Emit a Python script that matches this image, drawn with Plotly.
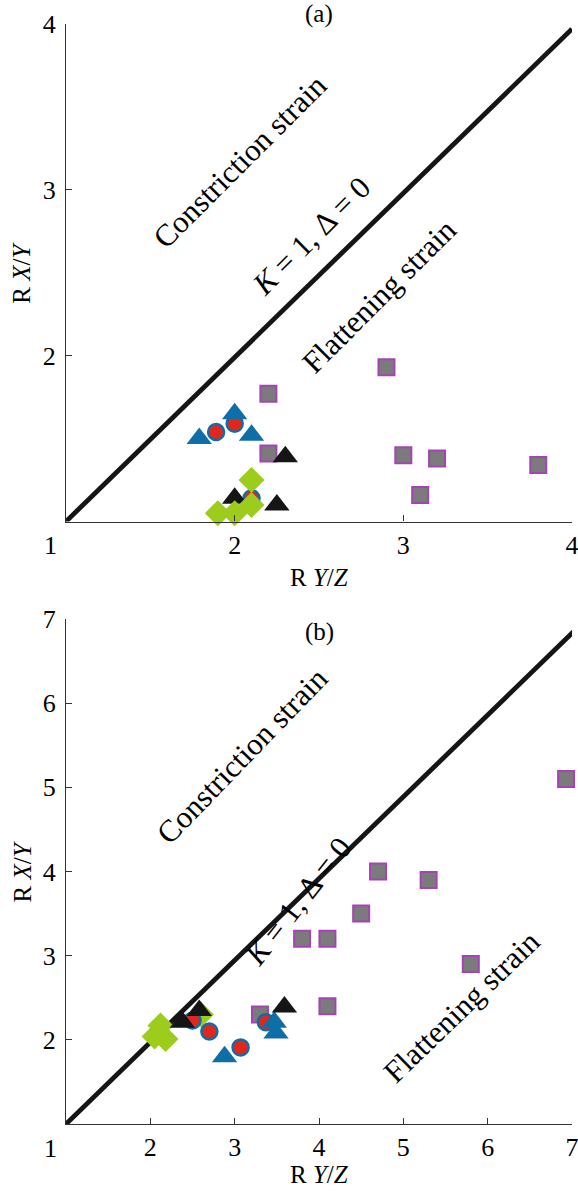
import plotly.graph_objects as go

# ---- Panel (a) data: R Y/Z (x) vs R X/Y (y) ----
a_sq_x = [2.2, 2.9, 2.2, 3.0, 3.2, 3.8, 3.1]
a_sq_y = [1.77, 1.93, 1.41, 1.40, 1.38, 1.34, 1.16]
a_circ_x = [1.89, 2.0, 2.1]
a_circ_y = [1.54, 1.59, 1.14]
a_btri_x = [1.79, 2.0, 2.1]
a_btri_y = [1.50, 1.65, 1.52]
a_ktri_x = [2.3, 2.0, 2.25]
a_ktri_y = [1.39, 1.14, 1.10]
a_dia_x = [1.9, 2.0, 2.1, 2.1]
a_dia_y = [1.05, 1.05, 1.25, 1.10]

# ---- Panel (b) data ----
b_sq_x = [6.93, 4.7, 5.3, 4.5, 3.8, 4.1, 5.8, 4.1, 3.3]
b_sq_y = [5.1, 4.0, 3.9, 3.5, 3.2, 3.2, 2.9, 2.4, 2.3]
b_circ_x = [2.5, 2.7, 3.07, 3.37]
b_circ_y = [2.23, 2.1, 1.91, 2.21]
b_btri_x = [2.88, 3.47, 3.49]
b_btri_y = [1.80, 2.21, 2.08]
b_ktri_x = [2.38, 2.58, 3.59]
b_ktri_y = [2.21, 2.35, 2.39]
b_dia_x = [2.05, 2.18, 2.12, 2.6]
b_dia_y = [2.04, 2.01, 2.17, 2.3]

# K = 1 reference lines
a_line_x = [1, 4]
a_line_y = [1, 3.97]
b_line_x = [1, 7.05]
b_line_y = [1, 6.88]

a_ticks = [2, 3, 4]
b_ticks = [2, 3, 4, 5, 6, 7]

SERIF = "Liberation Serif"
BLUE = "#0f6ea6"
RED = "#e3261c"
GREEN = "#9ccc1c"
GRAY = "#7b7b7b"
PURPLE = "#a444b4"
BLACK = "#151515"

fig = go.Figure()


def add_points(x, y, xa, ya, kind):
    if kind == "sq":
        m = dict(symbol="square", size=16, color=GRAY, line=dict(color=PURPLE, width=2))
    elif kind == "circ":
        m = dict(symbol="circle", size=16, color=RED, line=dict(color=BLUE, width=2.5))
    elif kind == "btri":
        m = dict(symbol="triangle-up", size=22, color=BLUE, line=dict(width=0))
    elif kind == "ktri":
        m = dict(symbol="triangle-up", size=22, color=BLACK, line=dict(width=0))
    else:
        m = dict(symbol="diamond", size=20, color=GREEN, line=dict(width=0))
    fig.add_trace(go.Scatter(x=x, y=y, xaxis=xa, yaxis=ya, mode="markers",
                             marker=m, cliponaxis=False, showlegend=False,
                             hoverinfo="skip"))


# panel (a)
fig.add_trace(go.Scatter(x=a_line_x, y=a_line_y, xaxis="x", yaxis="y", mode="lines",
                         line=dict(color=BLACK, width=4.8), showlegend=False))
add_points(a_sq_x, a_sq_y, "x", "y", "sq")
add_points(a_circ_x, a_circ_y, "x", "y", "circ")
add_points(a_btri_x, a_btri_y, "x", "y", "btri")
add_points(a_ktri_x, a_ktri_y, "x", "y", "ktri")
add_points(a_dia_x, a_dia_y, "x", "y", "dia")

# panel (b)
fig.add_trace(go.Scatter(x=b_line_x, y=b_line_y, xaxis="x2", yaxis="y2", mode="lines",
                         line=dict(color=BLACK, width=4.8), showlegend=False))
add_points(b_sq_x, b_sq_y, "x2", "y2", "sq")
add_points(b_dia_x, b_dia_y, "x2", "y2", "dia")
add_points(b_circ_x, b_circ_y, "x2", "y2", "circ")
add_points(b_btri_x, b_btri_y, "x2", "y2", "btri")
add_points(b_ktri_x, b_ktri_y, "x2", "y2", "ktri")

W, H = 578, 1191
xdom = [66 / W, 572 / W]
a_dom = [1 - 521.5 / H, 1 - 24 / H]
b_dom = [1 - 1124 / H, 1 - 619 / H]

axis_common = dict(showgrid=False, zeroline=False, showline=True, linecolor="#333333",
                   linewidth=1.2, ticks="inside", ticklen=6, tickcolor="#333333",
                   tickwidth=1.2, tickfont=dict(family=SERIF, size=26, color="black"),
                   mirror=False, automargin=False, ticklabeloverflow="allow")

fig.update_layout(
    width=W, height=H,
    margin=dict(l=0, r=0, t=0, b=0),
    paper_bgcolor="white", plot_bgcolor="white",
    xaxis=dict(domain=xdom, range=[1, 4], anchor="y", tickvals=a_ticks, **axis_common),
    yaxis=dict(domain=a_dom, range=[1, 4], anchor="x", tickvals=a_ticks,
               ticklabelstandoff=4, **axis_common),
    xaxis2=dict(domain=xdom, range=[1, 7], anchor="y2", tickvals=b_ticks, **axis_common),
    yaxis2=dict(domain=b_dom, range=[1, 7], anchor="x2", tickvals=b_ticks,
                ticklabelstandoff=4, **axis_common),
)

ann_font = dict(family=SERIF, size=31, color="black")
lab_font = dict(family=SERIF, size=25, color="black")
tick_font = dict(family=SERIF, size=26, color="black")
annotations = []
panels = (("x", "y", "(a)", 10, -56), ("x2", "y2", "(b)", -13, -50))
for xa, ya, tag, tag_shift, title_shift in panels:
    # corner tick label shared by both axes
    annotations.append(dict(x=1, y=1, xref=xa, yref=ya, text="1", showarrow=False,
                            font=tick_font, xanchor="center", yanchor="middle",
                            xshift=-16, yshift=-24))
    # panel tag
    annotations.append(dict(x=0.5, y=1, xref=f"{xa} domain", yref=f"{ya} domain",
                            text=tag, showarrow=False, font=lab_font,
                            xanchor="center", yanchor="middle", yshift=tag_shift))
    # axis titles
    annotations.append(dict(x=0.5, y=0, xref=f"{xa} domain", yref=f"{ya} domain",
                            text="R <i>Y</i>/<i>Z</i>", showarrow=False, font=lab_font,
                            xanchor="center", yanchor="middle", yshift=title_shift))
    annotations.append(dict(x=0, y=0.5, xref=f"{xa} domain", yref=f"{ya} domain",
                            text="R <i>X</i>/<i>Y</i>", showarrow=False, font=lab_font,
                            xanchor="center", yanchor="middle",
                            textangle=-90, xshift=-44))

annotations += [
    dict(x=2.03, y=3.17, xref="x", yref="y", text="Constriction strain", textangle=-45,
         showarrow=False, font=ann_font),
    dict(x=2.45, y=2.72, xref="x", yref="y", text="<i>K</i> = 1, Δ = 0", textangle=-45,
         showarrow=False, font=ann_font),
    dict(x=2.86, y=2.36, xref="x", yref="y", text="Flattening strain", textangle=-45,
         showarrow=False, font=ann_font),
    dict(x=3.09, y=5.38, xref="x2", yref="y2", text="Constriction strain", textangle=-46,
         showarrow=False, font=ann_font),
    dict(x=3.75, y=3.64, xref="x2", yref="y2", text="<i>K</i> = 1, Δ = 0", textangle=-52,
         showarrow=False, font=ann_font),
    dict(x=5.69, y=2.40, xref="x2", yref="y2", text="Flattening strain", textangle=-44,
         showarrow=False, font=ann_font),
]
fig.update_layout(annotations=annotations)

fig.write_html("out.html")
